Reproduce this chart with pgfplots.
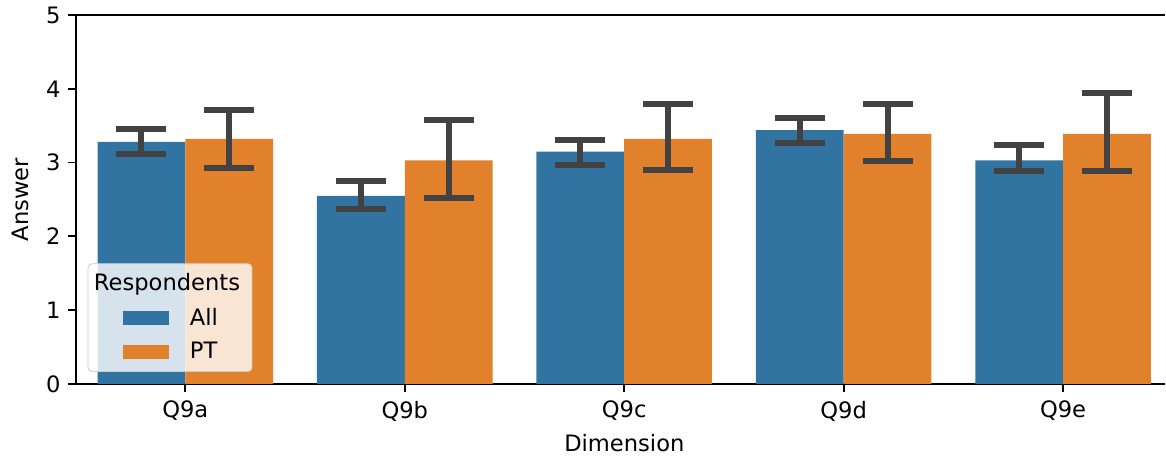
\documentclass[border=0pt]{standalone}
\usepackage{pgfplots}
\pgfplotsset{compat=1.18}
\usepackage{fontspec}
\setmainfont{DejaVu Sans}

\definecolor{allc}{RGB}{50,116,161}
\definecolor{ptc}{RGB}{225,129,44}
\definecolor{errc}{RGB}{66,66,66}
\definecolor{legedge}{RGB}{204,204,204}

\newcommand{\lblfont}{\fontsize{11.3}{13.5}\selectfont}

\pgfplotsset{
  errstyle/.style={
    error bars/y dir=both,
    error bars/y explicit,
    error bars/error bar style={line width=3pt, color=errc},
    error bars/error mark options={rotate=90, line width=3pt, color=errc, mark size=11pt, line cap=rect},
  },
  swatch/.style={
    legend image code/.code={
      \path[fill=none, draw=none] (0pt,-3.5pt) rectangle (45pt,3.5pt);
      \fill[#1, sharp corners, fill opacity=1] (13.5pt,-3.5pt) rectangle (36.5pt,3.5pt);
    },
  },
}

\begin{document}
\begin{tikzpicture}
\begin{axis}[
  scale only axis,
  width=545pt, height=184.5pt,
  xmin=-0.5, xmax=4.465,
  ymin=0, ymax=5,
  axis x line*=box,
  axis y line*=left,
  axis line style={line width=0.9pt, black},
  tick align=outside,
  tick pos=left,
  major tick length=4pt,
  tick style={line width=0.9pt, black},
  xtick={0,1,2,3,4},
  xticklabels={Q9a,Q9b,Q9c,Q9d,Q9e},
  ytick={0,1,2,3,4,5},
  /pgf/number format/assume math mode=true,
  tick label style={font=\lblfont},
  xticklabel style={yshift=-1pt},
  label style={font=\lblfont},
  xlabel={Dimension},
  ylabel={Answer},
  ylabel style={yshift=2pt},
  xlabel style={xshift=2pt, yshift=0pt},
  ybar,
  bar width=0.4,
  legend style={
    at={(0.011,0.0325)}, anchor=south west,
    fill=white, fill opacity=0.8, text opacity=1,
    draw=legedge, rounded corners=2pt,
    font=\lblfont,
    row sep=3pt,
    inner xsep=4pt, inner ysep=3pt,
  },
  legend cell align=left,
]
\addlegendimage{empty legend}
\addlegendentry{\hspace{-48pt}Respondents}
% mean answer per dimension, all respondents
\addplot[fill=allc, draw=none, bar shift=-0.2, errstyle, swatch=allc]
  coordinates {
    (0,3.28) += (0,0.17) -= (0,0.17)
    (1,2.55) += (0,0.20) -= (0,0.18)
    (2,3.15) += (0,0.16) -= (0,0.18)
    (3,3.44) += (0,0.16) -= (0,0.17)
    (4,3.03) += (0,0.21) -= (0,0.15)
  };
\addlegendentry{All}
% mean answer per dimension, PT respondents
\addplot[fill=ptc, draw=none, bar shift=0.2, errstyle, swatch=ptc]
  coordinates {
    (0,3.32) += (0,0.39) -= (0,0.39)
    (1,3.03) += (0,0.55) -= (0,0.51)
    (2,3.32) += (0,0.47) -= (0,0.42)
    (3,3.39) += (0,0.41) -= (0,0.37)
    (4,3.39) += (0,0.55) -= (0,0.51)
  };
\addlegendentry{PT}
\end{axis}
% white margin left of the y label
\path ([xshift=-2.5pt]current bounding box.west);
\end{tikzpicture}
\end{document}
